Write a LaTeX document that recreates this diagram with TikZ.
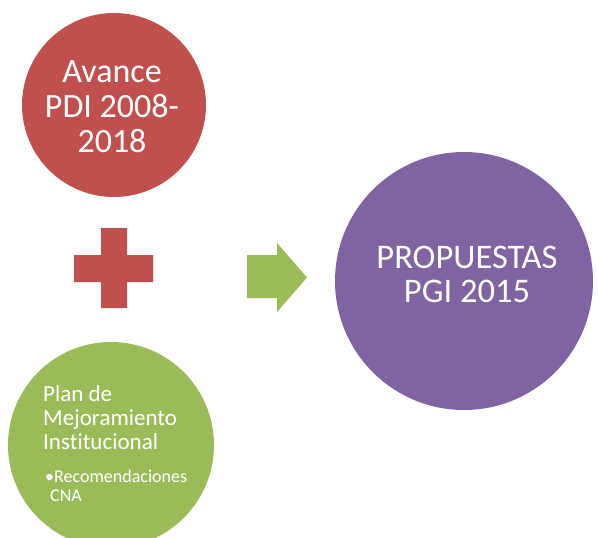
\documentclass[tikz,border=0pt]{standalone}
\usepackage{fontspec}
\setmainfont{Carlito}[Ligatures={NoCommon}]
\definecolor{cred}{HTML}{C0504D}
\definecolor{cgreen}{HTML}{9BBB59}
\definecolor{cpurple}{HTML}{8064A2}
\begin{document}
\begin{tikzpicture}[x=1pt,y=-1pt,
  disc/.style={circle,inner sep=0pt,draw=none},
  lbl/.style={text=white,inner sep=0pt}]
\useasboundingbox (0,0) rectangle (598,538);
\clip (0,0) rectangle (598,538);
% circles
\node[disc,fill=cred,minimum size=184pt] (avance) at (114,105) {};
\node[disc,fill=cgreen,minimum size=206pt] (plan) at (111,445) {};
\node[disc,fill=cpurple,minimum size=258pt] (prop) at (464,281) {};
% labels
\node[lbl,align=center,font=\fontsize{34}{35}\selectfont] (avancetxt) at (112,106.5) {Avance\\PDI 2008-\\2018};
\node[lbl,align=center,font=\fontsize{34.5}{34}\selectfont] (proptxt) at (467,274.5) {PROPUESTAS\\PGI 2015};
\node[lbl,align=left,anchor=west,font=\fontsize{23}{24}\selectfont] (plantxt) at (43,417.5) {Plan de\\Mejoramiento\\Institucional};
\node[lbl,align=left,anchor=west,font=\fontsize{18}{19}\selectfont] (cnatxt) at (45,485.5) {•Recomendaciones\\\hspace*{5pt}CNA};
% plus sign
\fill[cred] (101,228) -- (127,228) -- (127,255) -- (153,255) -- (153,282) -- (127,282)
  -- (127,308) -- (101,308) -- (101,282) -- (74,282) -- (74,255) -- (101,255) -- cycle;
% arrow
\fill[cgreen] (247,255) -- (277,255) -- (277,243) -- (307,277.5) -- (277,312) -- (277,298) -- (247,298) -- cycle;
\end{tikzpicture}
\end{document}
